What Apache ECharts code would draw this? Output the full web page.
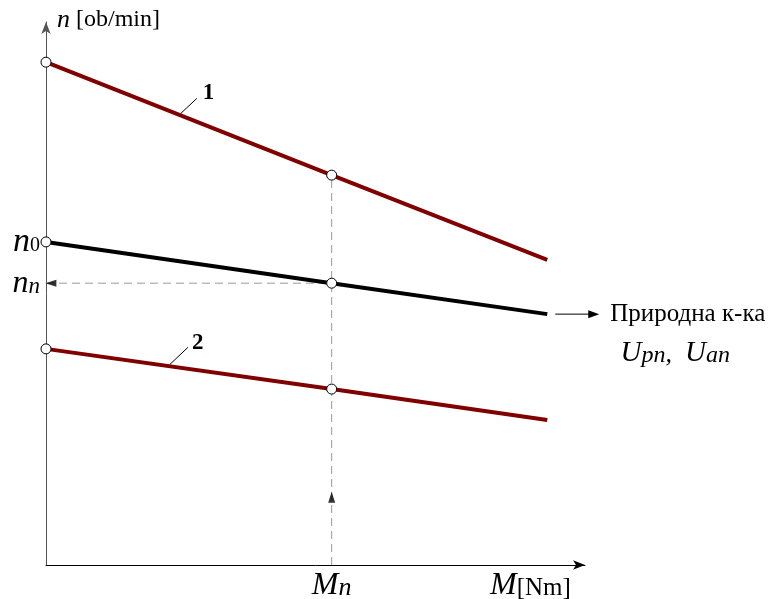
<!DOCTYPE html>
<html><head><meta charset="utf-8">
<script src="https://cdn.jsdelivr.net/npm/echarts@6/dist/echarts.min.js"></script>
<style>html,body{margin:0;padding:0;background:#fff}#c{width:772px;height:599px}</style>
</head><body><div id="c"></div>
<script>
// torque values (normalized): 0, rated Mn, end of characteristic
const M = [0, 53, 93];
const Mn = 53;
// speed values (normalized) for each characteristic
const line1 = [92.6, 71.8, 56.2];
const lineNat = [59.5, 51.9, 46.2];
const line2 = [39.8, 32.4, 26.7];
const ARROW_Y = 12.5;

const RED = '#800000';
const SERIF = '"Liberation Serif","DejaVu Serif",serif';

function mk(vals, color){
  return {
    type:'line', silent:true, animation:false, z:3,
    lineStyle:{color:color, width:4},
    itemStyle:{color:'#fff', borderColor:'#000', borderWidth:1},
    symbol:'circle', symbolSize:10, showSymbol:true,
    data: vals.map((v,i)=> i<2 ? {value:[M[i],v]} : {value:[M[i],v], symbol:'none'})
  };
}

const chart = echarts.init(document.getElementById('c'), null, {renderer:'canvas'});
const option = {
  animation:false,
  grid:{left:46, top:22, right:187, bottom:34},
  xAxis:{type:'value', min:0, max:100, splitLine:{show:false}, axisTick:{show:false}, axisLabel:{show:false},
    axisLine:{lineStyle:{color:'#000', width:1}, symbol:['none','arrow'], symbolSize:[7,12], symbolOffset:[0,0]}},
  yAxis:{type:'value', min:0, max:100, splitLine:{show:false}, axisTick:{show:false}, axisLabel:{show:false},
    axisLine:{lineStyle:{color:'#555', width:1}, symbol:['none','arrow'], symbolSize:[7,12], symbolOffset:[0,0]}},
  series:[
    {type:'line', silent:true, z:1, symbol:'none', lineStyle:{color:'#999', width:1, type:[8,5]},
      data:[[Mn,0],[Mn,line1[1]]]},
    {type:'line', silent:true, z:1, symbol:'none', lineStyle:{color:'#999', width:1, type:[8,5]},
      data:[[0,lineNat[1]],[Mn,lineNat[1]]]},
    {type:'scatter', silent:true, z:4, symbol:'triangle', symbolSize:[7,11], itemStyle:{color:'#000'},
      data:[[Mn,ARROW_Y]]},
    {type:'scatter', silent:true, z:4, symbol:'triangle', symbolSize:[7,11], symbolRotate:90, itemStyle:{color:'#000'},
      data:[[0.9,lineNat[1]]]},
    mk(line1, RED),
    mk(lineNat, '#000'),
    mk(line2, RED)
  ]
};
chart.setOption(option);

const P = (x,y)=>chart.convertToPixel({gridIndex:0},[x,y]);
const o = P(0,0), yTop = P(0,100), xr = P(100,0);
const pN0 = P(0,lineNat[0]), pNn = P(0,lineNat[1]), pEnd = P(M[2],lineNat[2]);
const pMn = P(Mn,0);
const a1 = P(25, line1[0] + (line1[1]-line1[0])*25/Mn);
const a2 = P(23, line2[0] + (line2[1]-line2[0])*23/Mn);

const g = [];
function txt(x,y,text,rich,opt){
  g.push({type:'text', x:x, y:y, z:10, silent:true,
    style:Object.assign({text:text, fill:'#000', font:'20px '+SERIF, rich:rich||{}, align:'left', verticalAlign:'middle'}, opt||{})});
}
// y axis name
txt(yTop[0]+11, yTop[1]-2, '{i|n} [ob/min]', {i:{fontStyle:'italic', fontSize:26, fontFamily:SERIF}}, {font:'24px '+SERIF});
// n0
txt(pN0[0]-6, pN0[1], '{n|n}{s|0}', {n:{fontStyle:'italic', fontSize:34, fontFamily:SERIF}, s:{fontSize:20, fontFamily:SERIF, padding:[7,0,0,0]}}, {align:'right'});
// nn
txt(pNn[0]-6, pNn[1], '{n|n}{s|n}', {n:{fontStyle:'italic', fontSize:32, fontFamily:SERIF}, s:{fontStyle:'italic', fontSize:23, fontFamily:SERIF, padding:[7,0,0,0]}}, {align:'right'});
// Mn
txt(pMn[0], o[1]+21, '{m|M}{s|n}', {m:{fontStyle:'italic', fontSize:32, fontFamily:SERIF}, s:{fontStyle:'italic', fontSize:26, fontFamily:SERIF, padding:[4,0,0,0]}}, {align:'center'});
// M[Nm]
txt(xr[0]-95, o[1]+21, '{m|M}{s|[Nm]}', {m:{fontStyle:'italic', fontSize:32, fontFamily:SERIF}, s:{fontSize:25, fontFamily:SERIF, padding:[4,0,0,0]}}, {});
// right annotation
g.push({type:'line', silent:true, z:10, shape:{x1:pEnd[0]+8, y1:pEnd[1], x2:pEnd[0]+45, y2:pEnd[1]}, style:{stroke:'#000', lineWidth:1}});
g.push({type:'polygon', silent:true, z:10, shape:{points:[[pEnd[0]+52,pEnd[1]],[pEnd[0]+41,pEnd[1]-4],[pEnd[0]+41,pEnd[1]+4]]}, style:{fill:'#000'}});
txt(pEnd[0]+63, pEnd[1], 'Природна к-ка', null, {font:'25px '+SERIF});
txt(pEnd[0]+128, pEnd[1]+39, '{u|U}{s|pn}{c|,  }{u|U}{s|an}', {u:{fontStyle:'italic', fontSize:29, fontFamily:SERIF}, s:{fontStyle:'italic', fontSize:24, fontFamily:SERIF, padding:[5,0,0,0]}, c:{fontStyle:'italic', fontSize:26, fontFamily:SERIF, padding:[4,0,0,0]}}, {align:'center'});
// labels 1 and 2
g.push({type:'line', silent:true, z:10, shape:{x1:a1[0], y1:a1[1]-2, x2:a1[0]+16, y2:a1[1]-17}, style:{stroke:'#000', lineWidth:1}});
txt(a1[0]+22, a1[1]-22, '1', null, {font:'bold 23px '+SERIF});
g.push({type:'line', silent:true, z:10, shape:{x1:a2[0], y1:a2[1]-2, x2:a2[0]+18, y2:a2[1]-19}, style:{stroke:'#000', lineWidth:1}});
txt(a2[0]+22, a2[1]-23, '2', null, {font:'bold 23px '+SERIF});

chart.setOption({graphic:{elements:g}});
</script></body></html>
